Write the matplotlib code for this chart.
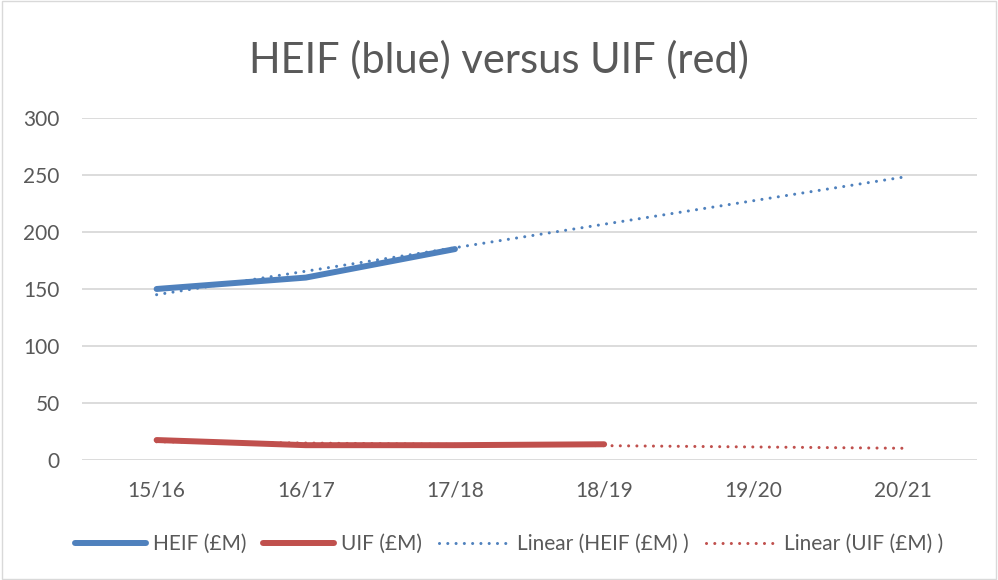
import matplotlib.pyplot as plt
from matplotlib.patches import Rectangle

plt.rcParams['font.family'] = ['Lato', 'DejaVu Sans']

years = ["15/16", "16/17", "17/18", "18/19", "19/20", "20/21"]
heif = [150, 160, 185]
uif = [17.5, 13, 13, 13.8]
# trend lines (start and end)
heif_trend = [145, 248]
uif_trend = [16, 10.3]

blue = "#4F81BD"
red = "#C0504D"
grey = "#595959"

fig = plt.figure(figsize=(9.98, 5.8), dpi=100)
ax = fig.add_axes([0.0822, 0.2069, 0.8968, 0.5897])

x = list(range(len(years)))
ax.plot(x[:len(heif)], heif, color=blue, lw=4.3, solid_capstyle="round",
        solid_joinstyle="round", label="HEIF (£M)", zorder=3)
ax.plot(x[:len(uif)], uif, color=red, lw=4.3, solid_capstyle="round",
        solid_joinstyle="round", label="UIF (£M)", zorder=3)
ax.plot([x[0], x[-1]], heif_trend, color=blue, lw=2.2, ls=(0, (0.01, 2.7)),
        dash_capstyle="round", label="Linear (HEIF (£M) )", zorder=4)
ax.plot([x[0], x[-1]], uif_trend, color=red, lw=2.2, ls=(0, (0.01, 2.7)),
        dash_capstyle="round", label="Linear (UIF (£M) )", zorder=4)

ax.set_xlim(-0.5, 5.5)
ax.set_ylim(0, 300)
ax.set_yticks(range(0, 301, 50))
ax.set_xticks(x)
ax.set_xticklabels(years)
ax.grid(axis="y", color="#D9D9D9", lw=1.3)
ax.set_axisbelow(True)
for s in ax.spines.values():
    s.set_visible(False)
ax.tick_params(length=0, labelsize=15, colors=grey)
ax.tick_params(axis="x", pad=15)
ax.tick_params(axis="y", pad=16)

fig.text(0.5, 1 - 73 / 580, "HEIF (blue) versus UIF (red)", ha="center", va="baseline",
         fontsize=30, color=grey)

fig.legend(loc="center", bbox_to_anchor=(0.51, 1 - 544 / 580), ncol=4, frameon=False,
           fontsize=15, labelcolor=grey, handlelength=3.4, columnspacing=0.8,
           handletextpad=0.35)

fig.patches.append(Rectangle((0.002, 0.002), 0.996, 0.996, transform=fig.transFigure,
                             fill=False, edgecolor="#D9D9D9", lw=1))

fig.savefig("out.png", dpi=100)
